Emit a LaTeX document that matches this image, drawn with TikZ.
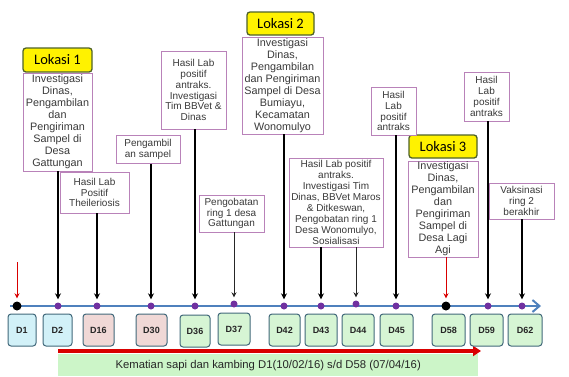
\documentclass[tikz,border=0pt]{standalone}
\usepackage{fontspec}
\setmainfont{Liberation Sans}
\newfontfamily\calib{Carlito}
\usetikzlibrary{arrows.meta,calc}
\definecolor{boxline}{HTML}{B982B9}
\definecolor{daybd}{HTML}{41687A}
\definecolor{dcyan}{HTML}{D2F1F8}
\definecolor{dpink}{HTML}{F0D8D6}
\definecolor{dgreen}{HTML}{D6F5D4}
\definecolor{tlblue}{HTML}{4F81BD}
\definecolor{dotpur}{HTML}{7030A0}
\definecolor{lokbd}{HTML}{4F6228}
\definecolor{bandgreen}{HTML}{CCF5C8}
\definecolor{txtgray}{HTML}{3A3A3A}
\tikzset{
  infobox/.style={draw=boxline, line width=0.9pt, fill=white, align=center, inner sep=1pt, font=\fontsize{10.8}{12}\selectfont, text=txtgray},
  smallbox/.style={infobox, font=\fontsize{10}{10.9}\selectfont},
  lokbox/.style={draw=lokbd, line width=1.3pt, fill=yellow, rounded corners=3pt, font=\calib\fontsize{14.5}{16}\selectfont, inner sep=0pt},
  daybox/.style={draw=daybd, line width=1pt, rounded corners=3pt, minimum height=32pt, font=\bfseries\fontsize{9}{10}\selectfont, text=black!85, inner sep=0pt},
  dot/.style={circle, fill=dotpur, minimum size=7pt, inner sep=0pt},
  bdot/.style={circle, fill=black, minimum size=9pt, inner sep=0pt},
  arr/.style={-{Stealth[length=6pt,width=6pt]}, line width=1.4pt, black, shorten >=3pt},
  thinarr/.style={-{Stealth[length=5pt,width=5pt]}, line width=0.8pt, black!85, shorten >=3pt},
  redarr/.style={-{Stealth[length=5pt,width=5pt]}, line width=0.9pt, red!85!black, shorten >=3pt},
}
\begin{document}
\begin{tikzpicture}[x=1pt,y=-1pt]
\useasboundingbox (0,0) rectangle (569,376);
% bottom band
\node[fill=bandgreen, minimum width=420pt, minimum height=22pt, inner sep=0pt, font=\fontsize{11.3}{12}\selectfont, text=black!85, anchor=north west] (band) at (58,354) {Kematian sapi dan kambing D1(10/02/16) s/d D58 (07/04/16)};
\coordinate (rs) at (58,351);
\coordinate (re) at (481,351);
\draw[line width=3.5pt, red!85!black, -{Triangle[length=8pt,width=10pt]}] (rs) -- (re);
% timeline
\coordinate (tls) at (10,306);
\coordinate (tle) at (541,306);
\draw[tlblue, line width=2.2pt, -{Straight Barb[length=7pt,width=12pt,line width=2pt]}] (tls) -- (tle);
% dots
\node[bdot] (t1) at (17,306) {};
\node[dot] (t2) at (58,306) {};
\node[dot] (t16) at (97,306) {};
\node[dot] (t30) at (151,306) {};
\node[dot] (t36) at (195,306) {};
\node[dot] (t37) at (234,304) {};
\node[dot] (t42) at (284,306) {};
\node[dot] (t43) at (321,306) {};
\node[dot] (t44) at (356,304) {};
\node[dot] (t45) at (396,306) {};
\node[bdot] (t58) at (446,306) {};
\node[dot] (t59) at (488,306) {};
\node[dot] (t62) at (522,306) {};
% day boxes
\node[daybox, fill=dcyan, minimum width=28pt] (d1) at (22,330) {D1};
\node[daybox, fill=dcyan, minimum width=29pt] (d2) at (57.5,330) {D2};
\node[daybox, fill=dpink, minimum width=31pt] (d16) at (98.5,330) {D16};
\node[daybox, fill=dpink, minimum width=31pt] (d30) at (151.5,330) {D30};
\node[daybox, fill=dgreen, minimum width=30pt] (d36) at (195,331) {D36};
\node[daybox, fill=dgreen, minimum width=32pt] (d37) at (234,329) {D37};
\node[daybox, fill=dgreen, minimum width=31pt] (d42) at (284.5,330) {D42};
\node[daybox, fill=dgreen, minimum width=32pt] (d43) at (321,330) {D43};
\node[daybox, fill=dgreen, minimum width=32pt] (d44) at (358,330) {D44};
\node[daybox, fill=dgreen, minimum width=33pt] (d45) at (396.5,330) {D45};
\node[daybox, fill=dgreen, minimum width=33pt] (d58) at (448.5,330) {D58};
\node[daybox, fill=dgreen, minimum width=33pt] (d59) at (486.5,330) {D59};
\node[daybox, fill=dgreen, minimum width=34pt] (d62) at (525,330) {D62};
% lokasi labels
\node[lokbox, minimum width=69pt, minimum height=24pt] (l1) at (57.5,60) {Lokasi 1};
\node[lokbox, minimum width=67pt, minimum height=23pt] (l2) at (280.5,23.5) {Lokasi 2};
\node[lokbox, minimum width=68pt, minimum height=23pt] (l3) at (443,146.5) {Lokasi 3};
% info boxes
\node[infobox, minimum width=69pt, minimum height=98pt] (b1) at (57.5,122) {Investigasi\\Dinas,\\Pengambilan\\dan\\Pengiriman\\Sampel di\\Desa\\Gattungan};
\node[smallbox, minimum width=69pt, minimum height=41pt] (b16) at (94.5,192.5) {Hasil Lab\\Positif\\Theileriosis};
\node[smallbox, minimum width=64pt, minimum height=28pt] (b30) at (148,149.5) {Pengambil\\an sampel};
\node[smallbox, minimum width=65pt, minimum height=78pt] (b36) at (193.5,90) {Hasil Lab\\positif\\antraks.\\Investigasi\\Tim BBVet \&\\Dinas};
\node[smallbox, minimum width=65pt, minimum height=37pt] (b37) at (231.5,213.5) {Pengobatan\\ring 1 desa\\Gattungan};
\node[infobox, minimum width=81pt, minimum height=97pt] (b42) at (282.5,85.5) {Investigasi\\Dinas,\\Pengambilan\\dan Pengiriman\\Sampel di Desa\\Bumiayu,\\Kecamatan\\Wonomulyo};
\node[smallbox, minimum width=94pt, minimum height=89pt] (b43) at (336,202.5) {Hasil Lab positif\\antraks.\\Investigasi Tim\\Dinas, BBVet Maros\\\& Ditkeswan,\\Pengobatan ring 1\\Desa Wonomulyo,\\Sosialisasi};
\node[smallbox, minimum width=45pt, minimum height=48pt] (b45) at (393.5,111) {Hasil\\Lab\\positif\\antraks};
\node[infobox, minimum width=70pt, minimum height=96pt] (b58) at (443,209) {Investigasi\\Dinas,\\Pengambilan\\dan\\Pengiriman\\Sampel di\\Desa Lagi\\Agi};
\node[smallbox, minimum width=45pt, minimum height=49pt] (b59) at (486.5,96.5) {Hasil\\Lab\\positif\\antraks};
\node[smallbox, minimum width=65pt, minimum height=36pt] (b62) at (521.5,201) {Vaksinasi\\ring 2\\berakhir};
% connectors
\coordinate (r1) at (17,262);
\draw[redarr] (r1) -- (t1.north);
\draw[arr] (b1.south -| t2) -- (t2.north);
\draw[arr] (b16.south -| t16) -- (t16.north);
\draw[arr] (b30.south -| t30) -- (t30.north);
\draw[arr] (b36.south -| t36) -- (t36.north);
\draw[thinarr] (b37.south -| t37) -- (t37.north);
\draw[arr] (b42.south -| t42) -- (t42.north);
\draw[arr] (b43.south -| t43) -- (t43.north);
\draw[thinarr] (b43.south -| t44) -- (t44.north);
\draw[arr] (b45.south -| t45) -- (t45.north);
\draw[redarr] (b58.south -| t58) -- (t58.north);
\draw[arr] (b59.south -| t59) -- (t59.north);
\draw[arr] (b62.south -| t62) -- (t62.north);
\end{tikzpicture}
\end{document}
